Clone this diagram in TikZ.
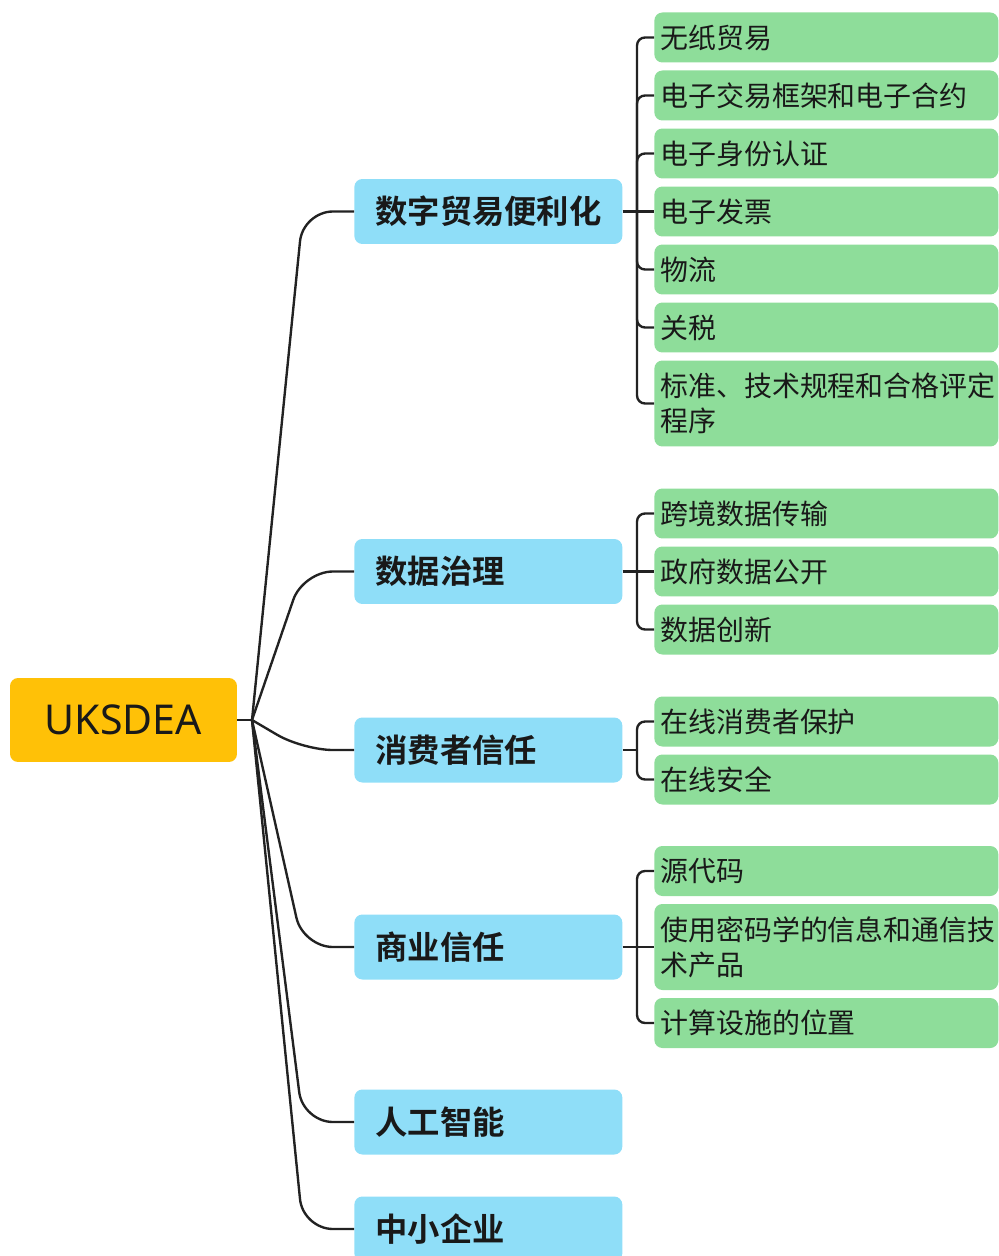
\documentclass[tikz,border=0pt]{standalone}
\usepackage{fontspec}
\setmainfont{Noto Sans CJK SC}[BoldFont={* Bold}]
\newfontfamily\rootfont{Noto Sans}
\usepackage{xcolor}
\usepackage{tikz}

\definecolor{rootyellow}{HTML}{FFC107}
\definecolor{topicblue}{HTML}{8FDEF8}
\definecolor{leafgreen}{HTML}{8EDD9A}
\definecolor{linegray}{HTML}{222222}

\tikzset{
	rootbox/.style={fill=rootyellow, rounded corners=0.16cm, minimum width=4.54cm, minimum height=1.68cm, text=black!90, font=\rootfont\fontsize{23.4}{28}\selectfont},
	topicbox/.style={fill=topicblue, rounded corners=0.16cm, anchor=west, text width=4.52cm, inner xsep=0.42cm, minimum height=1.3cm, align=left, text=black!90, font=\bfseries\fontsize{18.4}{22}\selectfont},
	leafbox/.style={fill=leafgreen, rounded corners=0.16cm, anchor=west, text width=6.64cm, inner xsep=0.12cm, minimum height=1cm, align=left, text=black!90, font=\fontsize{15.9}{19.8}\selectfont},
	link/.style={draw=linegray, line width=1.35pt},
}

\begin{document}
\begin{tikzpicture}[x=0.02cm, y=-0.02cm]
		\useasboundingbox (0,0) rectangle (998,1256);
		% root and main topics
		\node[rootbox] (root) at (123.5,720) {UKSDEA};
		\node[topicbox] (t1) at (354,211.5) {数字贸易便利化};
		\node[topicbox] (t2) at (354,571.5) {数据治理};
		\node[topicbox] (t3) at (354,750) {消费者信任};
		\node[topicbox] (t4) at (354,947) {商业信任};
		\node[topicbox] (t5) at (354,1122) {人工智能};
		\node[topicbox] (t6) at (354,1229) {中小企业};
		% subtopics
		\node[leafbox] (a1) at (654,37.5) {无纸贸易};
		\node[leafbox] (a2) at (654,95.5) {电子交易框架和电子合约};
		\node[leafbox] (a3) at (654,153.5) {电子身份认证};
		\node[leafbox] (a4) at (654,211.5) {电子发票};
		\node[leafbox] (a5) at (654,269.5) {物流};
		\node[leafbox] (a6) at (654,327.5) {关税};
		\node[leafbox, minimum height=1.72cm] (a7) at (654,403.5) {标准、技术规程和合格评定\\程序};
		\node[leafbox] (b1) at (654,513.5) {跨境数据传输};
		\node[leafbox] (b2) at (654,571.5) {政府数据公开};
		\node[leafbox] (b3) at (654,629.5) {数据创新};
		\node[leafbox] (c1) at (654,721.5) {在线消费者保护};
		\node[leafbox] (c2) at (654,779.5) {在线安全};
		\node[leafbox] (d1) at (654,871) {源代码};
		\node[leafbox, minimum height=1.72cm] (d2) at (654,947) {使用密码学的信息和通信技\\术产品};
		\node[leafbox] (d3) at (654,1023) {计算设施的位置};
		% root links
		\coordinate (hub) at (252,720);
		\draw[link] (root.east) -- (hub);
		\foreach \t in {t1,t2,t3,t4,t5,t6}
			\draw[link, rounded corners=0.6cm] (hub) -- (303,0 |- \t.west) -- (\t.west);
		% subtopic links
		\coordinate (s1) at (637,211.5);
		\coordinate (s2) at (637,571.5);
		\coordinate (s3) at (637,750);
		\coordinate (s4) at (637,947);
		\draw[link] (t1.east) -- (a4.west);
		\foreach \l in {a1,a2,a3,a5,a6,a7}
			\draw[link, rounded corners=0.16cm] (s1) |- (\l.west);
		\draw[link] (t2.east) -- (b2.west);
		\foreach \l in {b1,b3}
			\draw[link, rounded corners=0.16cm] (s2) |- (\l.west);
		\draw[link] (t3.east) -- (s3);
		\foreach \l in {c1,c2}
			\draw[link, rounded corners=0.16cm] (s3) |- (\l.west);
		\draw[link] (t4.east) -- (d2.west);
		\foreach \l in {d1,d3}
			\draw[link, rounded corners=0.16cm] (s4) |- (\l.west);
	\end{tikzpicture}
\end{document}
